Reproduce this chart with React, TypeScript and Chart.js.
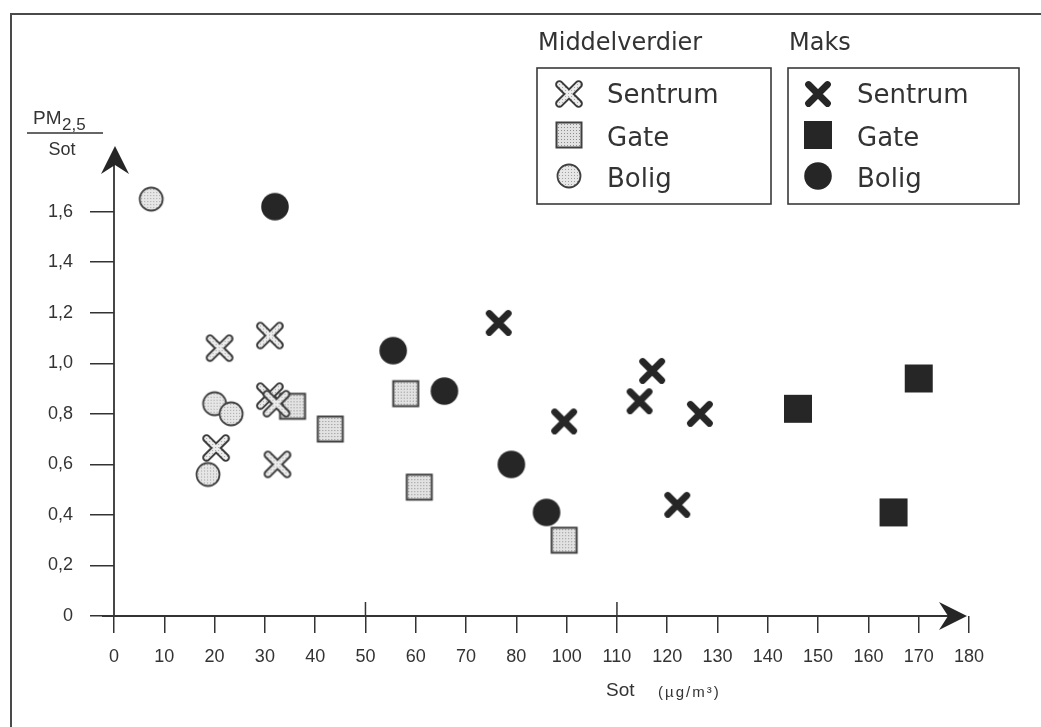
import React, { useEffect, useRef } from 'react';
import { Chart, registerables } from 'chart.js';

Chart.register(...registerables);

// ---- Data (x in µg/m³ as read against the printed tick labels, y = PM2,5 / Sot) ----
const xTickLabels = ['0', '10', '20', '30', '40', '50', '60', '70', '80', '100', '110', '120', '130', '140', '150', '160', '170', '180'];
const longTickLabels = ['50', '110'];
const yTickValues = [0, 0.2, 0.4, 0.6, 0.8, 1.0, 1.2, 1.4, 1.6];
const yTickLabels = ['0', '0,2', '0,4', '0,6', '0,8', '1,0', '1,2', '1,4', '1,6'];

const sentrumMidX = [21, 31, 31, 32.3, 20.3, 32.5];
const sentrumMidY = [1.06, 1.11, 0.87, 0.84, 0.665, 0.6];
const gateMidX = [35.5, 43, 58, 60.7, 99];
const gateMidY = [0.83, 0.74, 0.88, 0.51, 0.3];
const boligMidX = [7.4, 20, 23.3, 18.7];
const boligMidY = [1.65, 0.84, 0.8, 0.56];

const sentrumMaksX = [76.5, 99, 114.5, 117, 122, 126.5];
const sentrumMaksY = [1.16, 0.77, 0.85, 0.97, 0.44, 0.8];
const gateMaksX = [146, 165, 170];
const gateMaksY = [0.82, 0.41, 0.94];
const boligMaksX = [32, 55.5, 65.7, 79, 92];
const boligMaksY = [1.62, 1.05, 0.89, 0.6, 0.41];

const groupTitles = ['Middelverdier', 'Maks'];

// The printed axis skips "90": map a value onto the evenly spaced tick slots
const tickNums = xTickLabels.map(Number);
function toSlot(v: number): number {
  for (let i = 0; i < tickNums.length - 1; i++) {
    const a = tickNums[i];
    const b = tickNums[i + 1];
    if (v <= b) return i + (v - a) / (b - a);
  }
  return tickNums.length - 1;
}

const DARK = '#262626';
const INK = '#333333';
const TICK_FONT = '"Liberation Sans", Arial, sans-serif';
const LEG_FONT = '"DejaVu Sans", Verdana, sans-serif';

function stipple(ctx: CanvasRenderingContext2D, base: string, dot: string) {
  const p = document.createElement('canvas');
  p.width = 3;
  p.height = 3;
  const c = p.getContext('2d')!;
  c.fillStyle = base;
  c.fillRect(0, 0, 3, 3);
  c.fillStyle = dot;
  c.fillRect(1, 1, 1, 1);
  return ctx.createPattern(p, 'repeat')!;
}

function makeCanvas(size: number, draw: (c: CanvasRenderingContext2D, m: number) => void) {
  const cv = document.createElement('canvas');
  cv.width = size;
  cv.height = size;
  draw(cv.getContext('2d')!, size / 2);
  return cv;
}

function crossPath(c: CanvasRenderingContext2D, m: number, a: number) {
  c.beginPath();
  c.moveTo(m - a, m - a);
  c.lineTo(m + a, m + a);
  c.moveTo(m + a, m - a);
  c.lineTo(m - a, m + a);
}

function makeMarkers() {
  const lightX = makeCanvas(34, (c, m) => {
    c.lineCap = 'round';
    crossPath(c, m, 9.6);
    c.strokeStyle = '#3a3a3a';
    c.lineWidth = 8.5;
    c.stroke();
    crossPath(c, m, 9.6);
    c.strokeStyle = stipple(c, '#ececec', '#a8a8a8');
    c.lineWidth = 4.6;
    c.stroke();
  });
  const lightSq = makeCanvas(30, (c, m) => {
    c.fillStyle = stipple(c, '#e2e2e2', '#8f8f8f');
    c.fillRect(m - 13, m - 13, 26, 26);
    c.strokeStyle = '#3f3f3f';
    c.lineWidth = 2;
    c.strokeRect(m - 12.5, m - 12.5, 25, 25);
  });
  const lightCirc = makeCanvas(28, (c, m) => {
    c.beginPath();
    c.arc(m, m, 11.5, 0, Math.PI * 2);
    c.fillStyle = stipple(c, '#e6e6e6', '#a0a0a0');
    c.fill();
    c.strokeStyle = '#3f3f3f';
    c.lineWidth = 1.8;
    c.stroke();
  });
  const darkX = makeCanvas(32, (c, m) => {
    c.lineCap = 'round';
    crossPath(c, m, 9.5);
    c.strokeStyle = DARK;
    c.lineWidth = 6.8;
    c.stroke();
  });
  const darkSq = makeCanvas(30, (c, m) => {
    c.fillStyle = DARK;
    c.fillRect(m - 14, m - 14, 28, 28);
  });
  const darkCirc = makeCanvas(30, (c, m) => {
    c.beginPath();
    c.arc(m, m, 13.8, 0, Math.PI * 2);
    c.fillStyle = DARK;
    c.fill();
  });
  return { lightX, lightSq, lightCirc, darkX, darkSq, darkCirc };
}

function pts(xs: number[], ys: number[]) {
  return xs.map((x, i) => ({ x: toSlot(x), y: ys[i] }));
}

function arrowHead(ctx: CanvasRenderingContext2D, x: number, y: number, dx: number, dy: number) {
  const len = 28, half = 14, notch = 19;
  const px = -dy, py = dx;
  ctx.beginPath();
  ctx.moveTo(x, y);
  ctx.lineTo(x - dx * len + px * half, y - dy * len + py * half);
  ctx.lineTo(x - dx * notch, y - dy * notch);
  ctx.lineTo(x - dx * len - px * half, y - dy * len - py * half);
  ctx.closePath();
  ctx.fillStyle = DARK;
  ctx.fill();
}

const decorPlugin = {
  id: 'decor',
  beforeDatasetsDraw(chart: any) {
    const ctx: CanvasRenderingContext2D = chart.ctx;
    const { left, top, right, bottom } = chart.chartArea;
    const xs = chart.scales.x;
    ctx.save();
    // page frame
    ctx.strokeStyle = '#4a4a4a';
    ctx.lineWidth = 2;
    ctx.beginPath();
    ctx.moveTo(11, 727);
    ctx.lineTo(11, 14);
    ctx.lineTo(1041, 14);
    ctx.stroke();

    // axes
    ctx.strokeStyle = INK;
    ctx.lineWidth = 1.8;
    ctx.beginPath();
    ctx.moveTo(left - 12, bottom);
    ctx.lineTo(right - 12, bottom);
    ctx.moveTo(left, bottom);
    ctx.lineTo(left, top + 10);
    ctx.stroke();
    arrowHead(ctx, right - 2, bottom, 1, 0);
    arrowHead(ctx, left + 1, top, 0, -1);

    // long ticks crossing the axis
    ctx.lineWidth = 1.5;
    ctx.beginPath();
    longTickLabels.forEach((lab) => {
      const px = xs.getPixelForValue(xTickLabels.indexOf(lab));
      ctx.moveTo(px, bottom - 14);
      ctx.lineTo(px, bottom);
    });
    ctx.stroke();

    // y axis title: PM2,5 / Sot
    ctx.fillStyle = INK;
    ctx.textBaseline = 'alphabetic';
    ctx.textAlign = 'left';
    ctx.font = `19px ${TICK_FONT}`;
    ctx.fillText('PM', 33, 124);
    ctx.font = `17px ${TICK_FONT}`;
    ctx.fillText('2,5', 62, 130);
    ctx.lineWidth = 1.5;
    ctx.beginPath();
    ctx.moveTo(27, 133);
    ctx.lineTo(103, 133);
    ctx.stroke();
    ctx.font = `18px ${TICK_FONT}`;
    ctx.textAlign = 'center';
    ctx.fillText('Sot', 62, 155);

    // x axis title
    ctx.font = `19px ${TICK_FONT}`;
    ctx.textAlign = 'left';
    ctx.fillText('Sot', 606, 696);
    ctx.font = `15px ${TICK_FONT}`;
    (ctx as any).letterSpacing = '2px';
    ctx.fillText('(µg/m³)', 658, 697);
    (ctx as any).letterSpacing = '0px';
    ctx.restore();
  },
  afterDraw(chart: any) {
    const ctx: CanvasRenderingContext2D = chart.ctx;
    const boxes = [
      { x: 537, y: 68, w: 234, h: 136, markerX: 569, textX: 607 },
      { x: 788, y: 68, w: 231, h: 136, markerX: 818, textX: 857 },
    ];
    const rowMarkerY = [94, 135, 176];
    const rowBase = [103, 146, 187];
    ctx.save();
    boxes.forEach((b, g) => {
      ctx.fillStyle = INK;
      ctx.font = `24px ${LEG_FONT}`;
      ctx.textAlign = 'left';
      ctx.textBaseline = 'alphabetic';
      ctx.fillText(groupTitles[g], b.x + 1, 50);
      ctx.strokeStyle = '#3a3a3a';
      ctx.lineWidth = 1.6;
      ctx.strokeRect(b.x, b.y, b.w, b.h);
      const sets = chart.data.datasets.filter((d: any) => d.group === g);
      sets.forEach((d: any, r: number) => {
        const img = d.pointStyle as HTMLCanvasElement;
        ctx.drawImage(img, b.markerX - img.width / 2, rowMarkerY[r] - img.height / 2);
        ctx.fillStyle = INK;
        ctx.font = `26px ${LEG_FONT}`;
        ctx.fillText(d.label, b.textX, rowBase[r]);
      });
    });
    ctx.restore();
  },
};

export default function App() {
  const ref = useRef<HTMLCanvasElement | null>(null);

  useEffect(() => {
    if (!ref.current) return;
    const m = makeMarkers();
    const ds = (label: string, group: number, order: number, style: HTMLCanvasElement, data: any[]) => ({
      label,
      group,
      order,
      data,
      pointStyle: style,
      pointRadius: 12,
      pointHoverRadius: 12,
      showLine: false,
    });
    const chart = new Chart(ref.current, {
      type: 'scatter',
      data: {
        datasets: [
          ds('Sentrum', 0, 0, m.lightX, pts(sentrumMidX, sentrumMidY)),
          ds('Gate', 0, 1, m.lightSq, pts(gateMidX, gateMidY)),
          ds('Bolig', 0, 2, m.lightCirc, pts(boligMidX, boligMidY)),
          ds('Sentrum', 1, 3, m.darkX, pts(sentrumMaksX, sentrumMaksY)),
          ds('Gate', 1, 4, m.darkSq, pts(gateMaksX, gateMaksY)),
          ds('Bolig', 1, 5, m.darkCirc, pts(boligMaksX, boligMaksY)),
        ] as any,
      },
      options: {
        responsive: false,
        animation: false,
        devicePixelRatio: 1,
        layout: { padding: { left: 0, top: 146, right: 72, bottom: 0 } },
        plugins: { legend: { display: false }, tooltip: { enabled: false } },
        scales: {
          x: {
            type: 'linear',
            min: 0,
            max: xTickLabels.length - 1,
            afterBuildTicks: (s: any) => {
              s.ticks = xTickLabels.map((_, i) => ({ value: i }));
            },
            afterFit: (s: any) => {
              s.height = 111;
            },
            border: { display: false },
            grid: { display: true, drawOnChartArea: false, drawTicks: true, tickLength: 17, color: INK, lineWidth: 1.5 },
            ticks: {
              autoSkip: false,
              maxRotation: 0,
              padding: 13,
              color: INK,
              font: { family: TICK_FONT, size: 18 },
              callback: (v: any) => xTickLabels[Math.round(Number(v))],
            },
          },
          y: {
            type: 'linear',
            min: 0,
            max: 1.86,
            afterBuildTicks: (s: any) => {
              s.ticks = yTickValues.map((v) => ({ value: v }));
            },
            afterFit: (s: any) => {
              s.width = 114;
            },
            border: { display: false },
            grid: { display: true, drawOnChartArea: false, drawTicks: true, tickLength: 24, color: INK, lineWidth: 1.5 },
            ticks: {
              padding: 17,
              color: INK,
              font: { family: TICK_FONT, size: 18 },
              callback: (v: any, i: number) => yTickLabels[i],
            },
          },
        },
      },
      plugins: [decorPlugin],
    } as any);
    return () => chart.destroy();
  }, []);

  return (
    <div style={{ position: 'fixed', left: 0, top: 0, width: 1041, height: 727, background: '#fff' }}>
      <canvas ref={ref} width={1041} height={727} style={{ display: 'block' }} />
    </div>
  );
}
